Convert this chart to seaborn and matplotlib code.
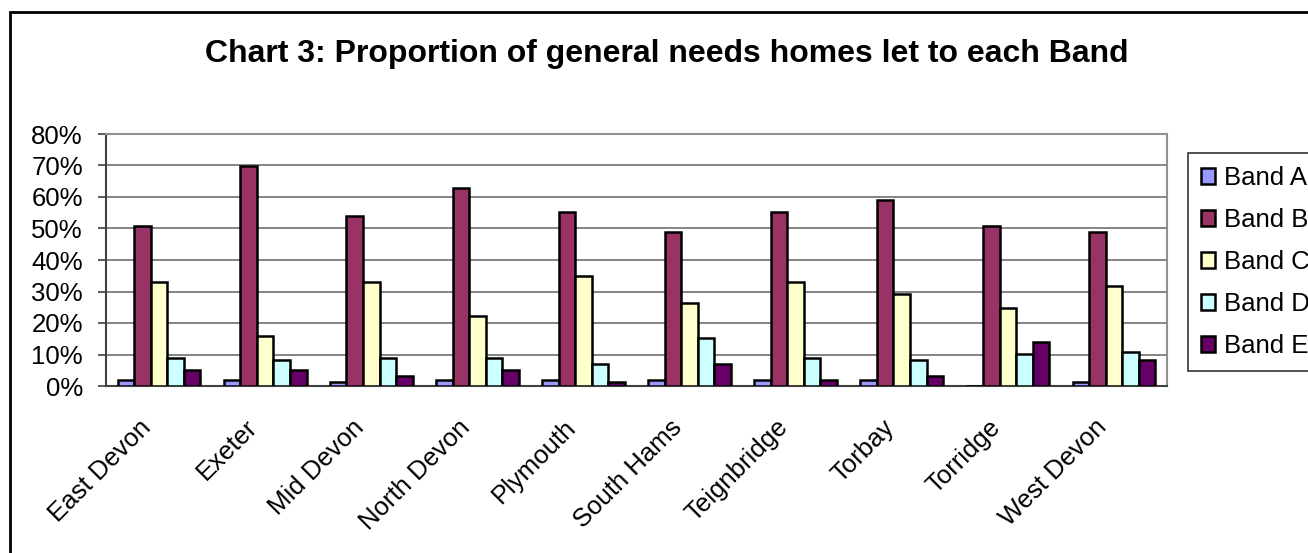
import pandas as pd
import numpy as np
import seaborn as sns
import matplotlib.pyplot as plt
from matplotlib.ticker import PercentFormatter
from matplotlib.patches import Rectangle
from matplotlib.transforms import ScaledTranslation

districts = ["East Devon", "Exeter", "Mid Devon", "North Devon", "Plymouth",
             "South Hams", "Teignbridge", "Torbay", "Torridge", "West Devon"]
bands = ["Band A", "Band B", "Band C", "Band D", "Band E"]
band_a = [1.9, 1.9, 1.2, 1.9, 1.9, 1.9, 1.9, 1.9, 0.0, 1.3]
band_b = [50.7, 69.9, 54.0, 62.8, 55.3, 48.9, 55.3, 59.2, 50.7, 48.9]
band_c = [32.9, 15.9, 32.9, 22.1, 35.0, 26.2, 32.9, 29.2, 24.7, 31.8]
band_d = [8.9, 8.4, 8.9, 8.9, 7.0, 15.3, 8.9, 8.4, 10.2, 10.9]
band_e = [5.2, 5.2, 3.2, 5.2, 1.3, 7.0, 1.9, 3.2, 14.1, 8.4]
colours = ["#9999FF", "#993366", "#FFFFCC", "#CCFFFF", "#660066"]

rows = []
for band, vals in zip(bands, [band_a, band_b, band_c, band_d, band_e]):
    for d, v in zip(districts, vals):
        rows.append({"District": d, "Band": band, "Share": v})
df = pd.DataFrame(rows)

sns.set_style("white")
plt.rcParams['font.family'] = ['Liberation Sans', 'DejaVu Sans']
plt.rcParams['text.color'] = 'black'
plt.rcParams['xtick.color'] = 'black'
plt.rcParams['ytick.color'] = 'black'

fig = plt.figure(figsize=(13.08, 5.53), dpi=100)
ax = fig.add_axes([106 / 1308, 1 - 386 / 553, (1167 - 106) / 1308, (386 - 134) / 553])

sns.barplot(data=df, x="District", y="Share", hue="Band", order=districts,
            hue_order=bands, palette=dict(zip(bands, colours)), width=0.78,
            saturation=1, edgecolor="black", linewidth=1.8, ax=ax, zorder=3)

ax.set_ylim(0, 80)
ax.set_xlim(-0.5, len(districts) - 0.5)
ax.set_yticks(np.arange(0, 81, 10))
ax.yaxis.set_major_formatter(PercentFormatter(xmax=100, decimals=0))
ax.yaxis.grid(True, color="#707070", linewidth=1.2, zorder=0)
ax.set_axisbelow(True)
ax.set_xlabel("")
ax.set_ylabel("")

ax.set_xticks(np.arange(-0.5, len(districts)), minor=True)
ax.tick_params(axis="x", which="major", length=0, pad=21, labelsize=18.5)
ax.tick_params(axis="x", which="minor", length=5, width=1.2, color="#404040", direction="out")
ax.tick_params(axis="y", length=5.8, width=1.2, color="#404040", direction="out", labelsize=18.5, pad=10.8)
ax.tick_params(bottom=True, left=True)
shift = ScaledTranslation(-20 / 100, 0, fig.dpi_scale_trans)
for lab in ax.get_xticklabels():
    lab.set_rotation(45)
    lab.set_ha("right")
    lab.set_rotation_mode("anchor")
    lab.set_transform(lab.get_transform() + shift)

for side in ["left", "bottom"]:
    ax.spines[side].set_color("#404040")
    ax.spines[side].set_linewidth(1.5)
for side in ["top", "right"]:
    ax.spines[side].set_color("#909090")
    ax.spines[side].set_linewidth(1.5)

handles, labels = ax.get_legend_handles_labels()
ax.get_legend().remove()
leg = fig.legend(handles, labels, loc="upper left",
                 bbox_to_anchor=(1188 / 1308, 1 - 153 / 553), fontsize=18.5,
                 frameon=True, fancybox=False, edgecolor="black",
                 handlelength=0.56, handleheight=0.56, handletextpad=0.36,
                 labelspacing=0.7, borderpad=0.5, borderaxespad=0)
leg.get_frame().set_linewidth(1.2)

fig.text(667 / 1308, 1 - 54 / 553,
         "Chart 3: Proportion of general needs homes let to each Band",
         ha="center", va="center", fontsize=23, fontweight="bold")

fig.patches.append(Rectangle((10 / 1308, -0.1), 1.2, 1 - 12 / 553 + 0.1,
                             transform=fig.transFigure, fill=False,
                             edgecolor="black", linewidth=2))

plt.savefig("out.png", dpi=100)
